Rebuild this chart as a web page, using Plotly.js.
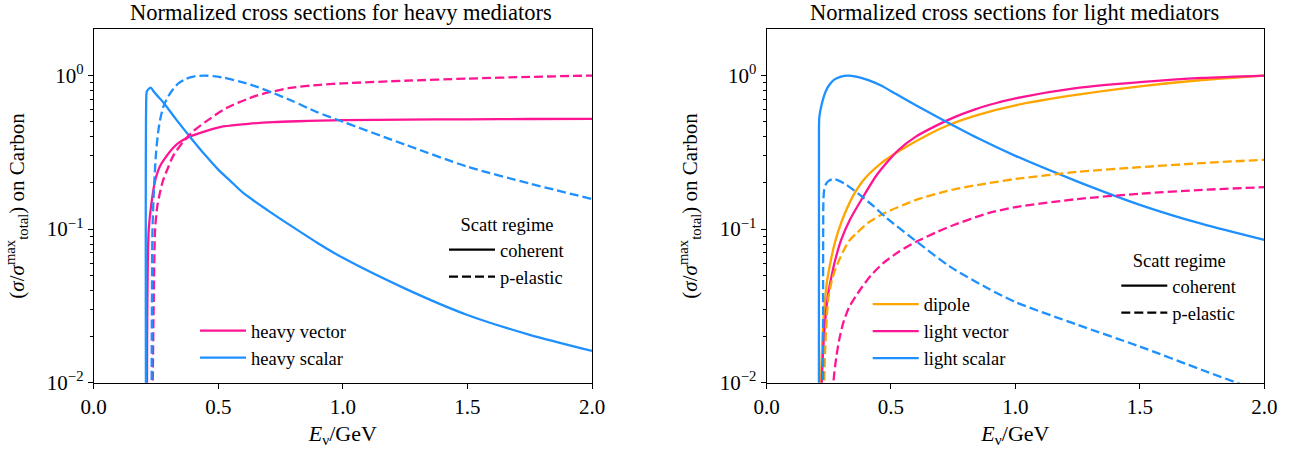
<!DOCTYPE html>
<html><head><meta charset="utf-8">
<script src="https://cdn.plot.ly/plotly-3.0.1.min.js"></script>
<style>html,body{margin:0;padding:0;background:#fff}</style>
</head><body><div id="chart" style="width:1299px;height:451px"></div>
<script>
// ---------- Heavy mediators panel ----------
const hvCohE = [0.2125, 0.2145, 0.217, 0.221, 0.230, 0.246, 0.265, 0.293, 0.320, 0.346, 0.386, 0.450, 0.520, 0.620, 0.720, 0.820, 0.908, 1.0, 1.25, 1.5, 1.75, 2.0];
const hvCohY = [0.001, 0.02, 0.06, 0.10, 0.14, 0.205, 0.255, 0.30, 0.34, 0.37, 0.40, 0.435, 0.466, 0.485, 0.497, 0.504, 0.509, 0.512, 0.516, 0.519, 0.521, 0.522];

const hvPelE = [0.2345, 0.237, 0.241, 0.2465, 0.255, 0.265, 0.279, 0.300, 0.319, 0.359, 0.400, 0.453, 0.533, 0.654, 0.787, 0.908, 1.0, 1.25, 1.5, 1.75, 2.0];
const hvPelY = [0.001, 0.01, 0.035, 0.10, 0.14, 0.17, 0.209, 0.255, 0.30, 0.37, 0.435, 0.505, 0.615, 0.74, 0.83, 0.87, 0.89, 0.925, 0.955, 0.98, 1.0];

const hsCohE = [0.2108, 0.2115, 0.2135, 0.2285, 0.240, 0.255, 0.279, 0.330, 0.386, 0.450, 0.500, 0.547, 0.600, 0.700, 0.800, 0.900, 1.0, 1.25, 1.5, 1.75, 2.0];
const hsCohY = [0.001, 0.75, 0.79, 0.835, 0.79, 0.74, 0.67, 0.52, 0.40, 0.30, 0.244, 0.207, 0.172, 0.132, 0.103, 0.081, 0.065, 0.041, 0.0276, 0.0205, 0.0161];

const hsPelE = [0.2315, 0.233, 0.236, 0.243, 0.250, 0.258, 0.266, 0.280, 0.299, 0.320, 0.340, 0.370, 0.400, 0.440, 0.480, 0.520, 0.587, 0.650, 0.720, 0.800, 0.894, 1.0, 1.25, 1.5, 1.75, 2.0];
const hsPelY = [0.001, 0.02, 0.10, 0.20, 0.31, 0.42, 0.51, 0.63, 0.73, 0.82, 0.89, 0.95, 0.985, 1.0, 0.99, 0.97, 0.914, 0.85, 0.77, 0.68, 0.58, 0.50, 0.355, 0.255, 0.198, 0.157];

// ---------- Light mediators panel ----------
const dpCohE = [0.2175, 0.219, 0.225, 0.232, 0.242, 0.258, 0.275, 0.300, 0.350, 0.386, 0.416, 0.460, 0.500, 0.536, 0.653, 0.734, 0.850, 1.0, 1.25, 1.5, 1.75, 2.0];
const dpCohY = [0.001, 0.01, 0.02, 0.03, 0.0444, 0.062, 0.082, 0.11, 0.167, 0.205, 0.232, 0.268, 0.298, 0.325, 0.415, 0.478, 0.555, 0.64, 0.75, 0.85, 0.935, 1.0];

const lvCohE = [0.221, 0.2215, 0.222, 0.238, 0.250, 0.262, 0.275, 0.300, 0.335, 0.386, 0.443, 0.528, 0.600, 0.680, 0.760, 0.841, 0.920, 1.0, 1.25, 1.5, 1.75, 2.0];
const lvCohY = [0.001, 0.005, 0.01, 0.028, 0.040, 0.050, 0.062, 0.085, 0.115, 0.16, 0.225, 0.325, 0.40, 0.47, 0.54, 0.605, 0.66, 0.71, 0.83, 0.905, 0.965, 1.0];

const lsCohE = [0.2104, 0.2108, 0.212, 0.218, 0.238, 0.255, 0.272, 0.300, 0.325, 0.360, 0.412, 0.460, 0.519, 0.600, 0.707, 0.850, 1.0, 1.25, 1.5, 1.75, 2.0];
const lsCohY = [0.001, 0.45, 0.53, 0.61, 0.79, 0.88, 0.94, 0.985, 1.0, 0.985, 0.93, 0.86, 0.76, 0.64, 0.515, 0.39, 0.30, 0.204, 0.144, 0.108, 0.085];

const dpPelE = [0.2295, 0.232, 0.238, 0.248, 0.265, 0.290, 0.330, 0.362, 0.412, 0.469, 0.546, 0.616, 0.720, 0.777, 0.891, 1.0, 1.25, 1.5, 1.75, 2.0];
const dpPelY = [0.001, 0.01, 0.02, 0.035, 0.048, 0.062, 0.083, 0.094, 0.111, 0.126, 0.143, 0.158, 0.176, 0.185, 0.199, 0.212, 0.236, 0.253, 0.269, 0.283];

const lvPelE = [0.2665, 0.269, 0.280, 0.292, 0.308, 0.332, 0.375, 0.420, 0.469, 0.530, 0.603, 0.680, 0.750, 0.891, 1.0, 1.25, 1.5, 1.75, 2.0];
const lvPelY = [0.001, 0.01, 0.0145, 0.019, 0.0244, 0.031, 0.040, 0.050, 0.060, 0.071, 0.083, 0.095, 0.106, 0.127, 0.139, 0.157, 0.17, 0.18, 0.1875];

const lsPelE = [0.2272, 0.2278, 0.229, 0.233, 0.240, 0.250, 0.268, 0.290, 0.320, 0.375, 0.430, 0.483, 0.603, 0.737, 0.891, 1.0, 1.25, 1.5, 1.75, 2.0];
const lsPelY = [0.001, 0.10, 0.16, 0.185, 0.198, 0.206, 0.212, 0.207, 0.195, 0.167, 0.141, 0.118, 0.083, 0.057, 0.041, 0.0335, 0.0238, 0.0172, 0.0121, 0.0086];

// ---------- Axes ticks / labels ----------
const xTickVals = [0, 0.5, 1.0, 1.5, 2.0];
const xTickText = ['0.0', '0.5', '1.0', '1.5', '2.0'];
const yTickVals = [0.01, 0.1, 1];
const yTickText = ['10<sup>\u22122</sup>', '10<sup>\u22121</sup>', '10<sup>0</sup>'];
const yMinorVals = [0.02, 0.03, 0.04, 0.05, 0.06, 0.07, 0.08, 0.09, 0.2, 0.3, 0.4, 0.5, 0.6, 0.7, 0.8, 0.9];
const panelTitles = ['Normalized cross sections for heavy mediators', 'Normalized cross sections for light mediators'];
const xTitle = '<i>E</i><sub>\u03bd</sub>/GeV';
const yTitle = '(<i>\u03c3</i>/<i>\u03c3</i><sup>max</sup><sub>total</sub>) on Carbon';

const PINK = '#ff1493', BLUE = '#1e90ff', ORANGE = '#ffa500';
const FONT = 'Liberation Serif';
const DASH = '9px,4px';
const LW = 2.3;

function tr(x, y, color, dash, xa, ya, name, legend, showlegend) {
  return {type: 'scatter', mode: 'lines', x: x, y: y, xaxis: xa, yaxis: ya,
    name: name, legend: legend, showlegend: showlegend, hoverinfo: 'skip',
    line: {color: color, width: LW, dash: dash, shape: 'spline', smoothing: 0.7}};
}
function dummy(name, dash, xa, ya, legend) {
  return {type: 'scatter', mode: 'lines', x: [null], y: [null], xaxis: xa, yaxis: ya,
    name: name, legend: legend, showlegend: true, hoverinfo: 'skip',
    line: {color: 'black', width: LW, dash: dash}};
}

const data = [
  // left panel
  tr(hvCohE, hvCohY, PINK, 'solid', 'x', 'y', 'heavy vector', 'legend', true),
  tr(hsCohE, hsCohY, BLUE, 'solid', 'x', 'y', 'heavy scalar', 'legend', true),
  tr(hvPelE, hvPelY, PINK, DASH, 'x', 'y', 'heavy vector p', 'legend', false),
  tr(hsPelE, hsPelY, BLUE, DASH, 'x', 'y', 'heavy scalar p', 'legend', false),
  dummy('coherent', 'solid', 'x', 'y', 'legend2'),
  dummy('p-elastic', DASH, 'x', 'y', 'legend2'),
  // right panel
  tr(dpCohE, dpCohY, ORANGE, 'solid', 'x2', 'y2', 'dipole', 'legend3', true),
  tr(lvCohE, lvCohY, PINK, 'solid', 'x2', 'y2', 'light vector', 'legend3', true),
  tr(lsCohE, lsCohY, BLUE, 'solid', 'x2', 'y2', 'light scalar', 'legend3', true),
  tr(dpPelE, dpPelY, ORANGE, DASH, 'x2', 'y2', 'dipole p', 'legend3', false),
  tr(lvPelE, lvPelY, PINK, DASH, 'x2', 'y2', 'light vector p', 'legend3', false),
  tr(lsPelE, lsPelY, BLUE, DASH, 'x2', 'y2', 'light scalar p', 'legend3', false),
  dummy('coherent', 'solid', 'x2', 'y2', 'legend4'),
  dummy('p-elastic', DASH, 'x2', 'y2', 'legend4')
];

const W = 1299, H = 451;
const px = v => v / W, py = v => 1 - v / H;

function xaxis(dom, anchor) {
  return {domain: dom, anchor: anchor, range: [0, 2], tickmode: 'array', tickvals: xTickVals, ticktext: xTickText,
    ticks: 'outside', ticklen: 5, tickwidth: 1, tickcolor: 'black', showline: true, linecolor: 'black', linewidth: 1,
    mirror: true, showgrid: false, zeroline: false, tickfont: {family: FONT, size: 21, color: 'black'},
    title: {text: xTitle, font: {family: FONT, size: 22, color: 'black'}, standoff: 7}};
}
function yaxis(dom, anchor) {
  return {domain: dom, anchor: anchor, type: 'log', range: [-2, Math.log10(2)], tickmode: 'array',
    tickvals: yTickVals, ticktext: yTickText, ticks: 'outside', ticklen: 5, tickwidth: 1, tickcolor: 'black',
    minor: {tickmode: 'array', tickvals: yMinorVals, ticks: 'outside', ticklen: 2.5, tickwidth: 1, tickcolor: 'black', showgrid: false},
    showline: true, linecolor: 'black', linewidth: 1, mirror: true, showgrid: false, zeroline: false,
    tickfont: {family: FONT, size: 21, color: 'black'},
    title: {text: yTitle, font: {family: FONT, size: 21, color: 'black'}, standoff: 16}};
}
const yDom = [py(382.7), py(29.3)];
const legFont = {family: FONT, size: 18.5, color: 'black'};
function leg(x, y, title) {
  const o = {x: px(x), y: py(y), xanchor: 'left', yanchor: 'top', bgcolor: 'rgba(0,0,0,0)', borderwidth: 0,
    font: legFont, traceorder: 'normal', itemwidth: 46};
  if (title) o.title = {text: title, side: 'top center', font: legFont};
  return o;
}

const layout = {
  width: W, height: H, margin: {l: 0, r: 0, t: 0, b: 0}, paper_bgcolor: 'white', plot_bgcolor: 'white',
  font: {family: FONT, color: 'black'},
  xaxis: xaxis([px(93.7), px(592)], 'y'),
  yaxis: yaxis(yDom, 'x'),
  xaxis2: xaxis([px(766.5), px(1264.3)], 'y2'),
  yaxis2: yaxis(yDom, 'x2'),
  legend: leg(195, 312),
  legend2: leg(444, 207, 'Scatt regime'),
  legend3: leg(867.7, 285.5),
  legend4: leg(1116.3, 243, 'Scatt regime'),
  annotations: [
    {text: panelTitles[0], x: px(341), y: py(12), xref: 'paper', yref: 'paper', xanchor: 'center', yanchor: 'middle', showarrow: false, font: {family: FONT, size: 22.5, color: 'black'}},
    {text: panelTitles[1], x: px(1014), y: py(12), xref: 'paper', yref: 'paper', xanchor: 'center', yanchor: 'middle', showarrow: false, font: {family: FONT, size: 22.5, color: 'black'}}
  ],
  showlegend: true
};

Plotly.newPlot('chart', data, layout, {displayModeBar: false, staticPlot: true});
</script></body></html>
